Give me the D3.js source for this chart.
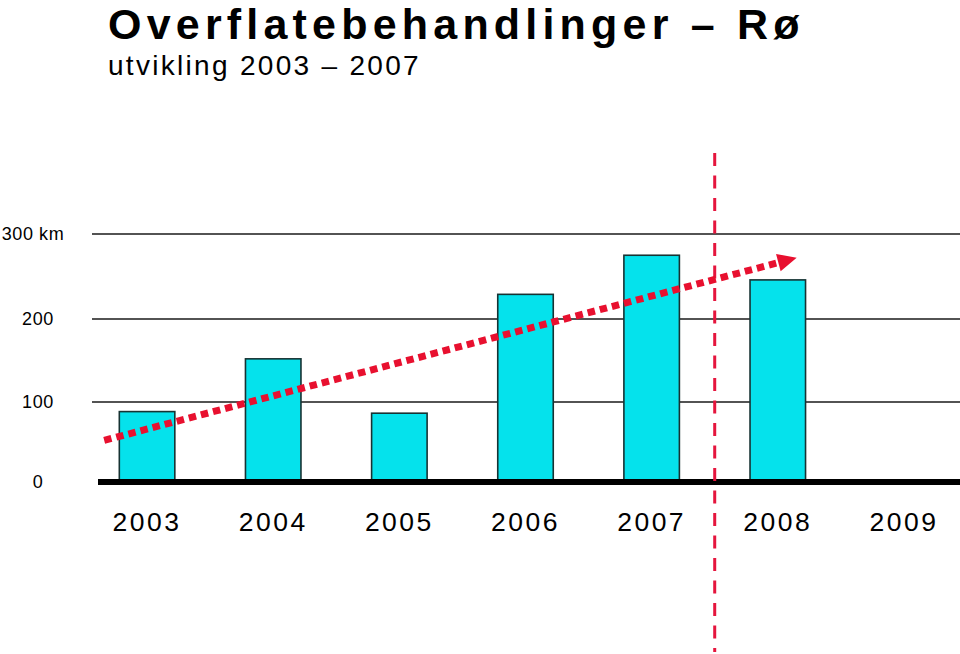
<!DOCTYPE html>
<html>
<head>
<meta charset="utf-8">
<script src="https://cdn.jsdelivr.net/npm/d3@7"></script>
<style>
  html, body { margin: 0; padding: 0; background: #fff; }
  svg { display: block; font-family: "Liberation Sans", Arial, Helvetica, sans-serif; }
</style>
</head>
<body>
<svg id="chart" width="960" height="654"></svg>
<script>
// ---- data ----
const years = ["2003", "2004", "2005", "2006", "2007", "2008", "2009"];
const lengths = [88, 152, 86, 229, 275, 246, null];   // km per year
const yTicks = [0, 100, 200, 300];
const yTickLabels = ["0", "100", "200", "300 km"];
const trendYears = [2002.66, 2008.15];
const trendValues = [52, 272];
const dividerYear = 2007.5;
const titleText = "Overflatebehandlinger  –  Rø";
const subtitleText = "utvikling 2003  –  2007";

// ---- layout ----
const svg = d3.select("#chart");
const W = 960, H = 654;

const x = d3.scaleBand().domain(years).range([84, 967]).paddingInner(0.56).paddingOuter(0.28);
const xc = d3.scaleLinear()
  .domain([+years[0], +years[years.length - 1]])
  .range([x(years[0]) + x.bandwidth() / 2, x(years[years.length - 1]) + x.bandwidth() / 2]);
const y = d3.scaleLinear().domain(yTicks).range([482, 402, 319, 234]);

// title
svg.append("text")
  .attr("x", 108).attr("y", 39)
  .attr("font-size", 43).attr("font-weight", "bold")
  .attr("letter-spacing", 5.2)
  .attr("fill", "#000")
  .text(titleText);
svg.append("text")
  .attr("x", 108).attr("y", 75)
  .attr("font-size", 28)
  .attr("letter-spacing", 2.3)
  .attr("fill", "#000")
  .text(subtitleText);

// gridlines
svg.append("g").selectAll("line")
  .data(yTicks.filter(d => d > 0))
  .join("line")
  .attr("x1", 92).attr("x2", W)
  .attr("y1", d => y(d)).attr("y2", d => y(d))
  .attr("stroke", "#1a1a1a").attr("stroke-width", 1.6);

// y tick labels
svg.append("g").selectAll("text")
  .data(yTicks)
  .join("text")
  .attr("x", (d, i) => i === yTicks.length - 1 ? 33 : 38)
  .attr("y", d => y(d))
  .attr("dy", "0.36em")
  .attr("text-anchor", "middle")
  .attr("font-size", 18)
  .attr("letter-spacing", 0.6)
  .attr("fill", "#000")
  .text((d, i) => yTickLabels[i]);

// bars
const barData = years.map((yr, i) => ({ yr, v: lengths[i] })).filter(d => d.v != null);
svg.append("g").selectAll("rect")
  .data(barData)
  .join("rect")
  .attr("x", d => x(d.yr))
  .attr("width", x.bandwidth())
  .attr("y", d => y(d.v))
  .attr("height", d => y(0) - y(d.v))
  .attr("fill", "#05e2ec")
  .attr("stroke", "#173333").attr("stroke-width", 1.6);

// baseline
svg.append("line")
  .attr("x1", 98).attr("x2", W)
  .attr("y1", y(0)).attr("y2", y(0))
  .attr("stroke", "#000").attr("stroke-width", 6);

// x labels
svg.append("g").selectAll("text")
  .data(years)
  .join("text")
  .attr("x", d => x(d) + x.bandwidth() / 2)
  .attr("y", 531)
  .attr("text-anchor", "middle")
  .attr("font-size", 26.5)
  .attr("letter-spacing", 2.5)
  .attr("fill", "#000")
  .text(d => d);

// vertical dashed divider
svg.append("line")
  .attr("x1", xc(dividerYear)).attr("x2", xc(dividerYear))
  .attr("y1", 153).attr("y2", 652)
  .attr("stroke", "#e5153d").attr("stroke-width", 3)
  .attr("stroke-dasharray", "13,9.5");

// trend arrow
const p0 = [xc(trendYears[0]), y(trendValues[0])];
const p1 = [xc(trendYears[1]), y(trendValues[1])];
const ang = Math.atan2(p1[1] - p0[1], p1[0] - p0[0]);
const headLen = 19, headHalf = 9;
const base = [p1[0] - headLen * Math.cos(ang), p1[1] - headLen * Math.sin(ang)];
svg.append("line")
  .attr("x1", p0[0]).attr("y1", p0[1])
  .attr("x2", base[0] + 2 * Math.cos(ang)).attr("y2", base[1] + 2 * Math.sin(ang))
  .attr("stroke", "#e8102f").attr("stroke-width", 7)
  .attr("stroke-dasharray", "7.5,5");
const perp = ang + Math.PI / 2;
svg.append("path")
  .attr("d", d3.line()([
    p1,
    [base[0] + headHalf * Math.cos(perp), base[1] + headHalf * Math.sin(perp)],
    [base[0] - headHalf * Math.cos(perp), base[1] - headHalf * Math.sin(perp)]
  ]) + "Z")
  .attr("fill", "#e8102f");
</script>
</body>
</html>
